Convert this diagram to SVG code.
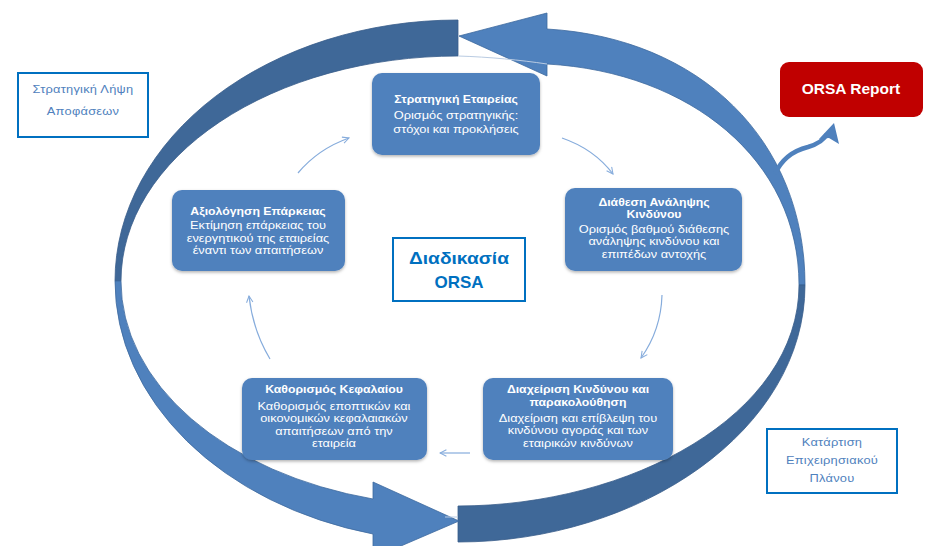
<svg xmlns="http://www.w3.org/2000/svg" width="943" height="546" viewBox="0 0 943 546">
<defs>
<style>
.box{fill:#4F81BD;filter:url(#sh)}
.t{font-family:"Liberation Sans",Arial,sans-serif;fill:#fff;text-anchor:middle;font-size:10.5px;transform-box:fill-box;transform-origin:center;transform:scaleX(1.22)}
.tb{font-weight:bold;font-size:10.5px;transform:scaleX(1.17)}
.frame{fill:#fff;stroke:#0070C0;stroke-width:2}
.st{font-family:"Liberation Sans",Arial,sans-serif;fill:#4F81BD;text-anchor:middle;font-size:11px;letter-spacing:0.2px;transform-box:fill-box;transform-origin:center;transform:scaleX(1.17)}
.ct{font-family:"Liberation Sans",Arial,sans-serif;fill:#0070C0;text-anchor:middle;font-weight:bold}
.dark{fill:#3F6898;stroke:#385D8A;stroke-width:0.8}
.light{fill:#4F81BD;stroke:#3E6A9E;stroke-width:0.8}
.conn{fill:none;stroke:#86ACDC;stroke-width:1.2;marker-end:url(#ah)}
</style>
<filter id="sh" x="-10%" y="-10%" width="120%" height="130%">
<feDropShadow dx="0" dy="1.5" stdDeviation="1.5" flood-color="#000" flood-opacity="0.3"/>
</filter>
<marker id="ah" viewBox="0 0 10 10" refX="9" refY="5" markerWidth="8" markerHeight="8" orient="auto" markerUnits="userSpaceOnUse">
<path d="M1 1 L9 5 L1 9" fill="none" stroke="#86ACDC" stroke-width="1.3"/>
</marker>
</defs>
<rect width="943" height="546" fill="#fff"/>

<g id="cycle">
<path class="light" d="M805 285 C805 140 700 38 547 29 L547 13 L459 36 L547 76 L547 64 C690 72 799 160 799 285 Z"/>
<path class="dark" d="M458 20 A343 261 0 0 0 115 281 L121 281 A337 225 0 0 1 458 56 Z"/>
<path d="M458 56 C490 57 520 60 547 64" fill="none" stroke="#B9CBE2" stroke-width="1"/>
<path class="dark" d="M458 542 C640 542 805 430 805 285 L799 285 C799 415 630 506 458 506 Z"/>
<path class="light" d="M115 281 A343 261 0 0 0 373 534 L373 558 L459 521 L373 482 L373 499 A337 225 0 0 1 121 281 Z"/>
<path d="M445 517 L458 517" stroke="#B9CBE2" stroke-width="1"/>
</g>

<g id="connectors">
<path class="conn" d="M298 173 Q318 149 349 138"/>
<path class="conn" d="M562 138 Q594 149 613 174"/>
<path class="conn" d="M662 295 Q661 330 641 358"/>
<path class="conn" d="M470 453 L440 453"/>
<path class="conn" d="M270 359 Q253 331 249 296"/>
<path d="M775 174 C783 156 796 150 808 147 C818 144 824 140 827 134" fill="none" stroke="#4F81BD" stroke-width="4.5"/>
<path d="M834 123 L839 144 L829 138 L819 139 Z" fill="#4F81BD"/>
</g>

<g id="n-strategy">
<rect class="box" x="372" y="73" width="168" height="82" rx="10"/>
<text class="t tb" x="456" y="103">Στρατηγική Εταιρείας</text>
<text class="t" x="456" y="119">Ορισμός στρατηγικής:</text>
<text class="t" x="456" y="133">στόχοι και προκλήσεις</text>
</g>

<g id="n-appetite">
<rect class="box" x="565" y="188" width="177" height="83" rx="10"/>
<text class="t tb" x="654" y="206">Διάθεση Ανάληψης</text>
<text class="t tb" x="654" y="218.5">Κινδύνου</text>
<text class="t" x="654" y="233">Ορισμός βαθμού διάθεσης</text>
<text class="t" x="654" y="245.5">ανάληψης κινδύνου και</text>
<text class="t" x="654" y="258">επιπέδων αντοχής</text>
</g>

<g id="n-risk">
<rect class="box" x="483" y="378" width="190" height="82" rx="10"/>
<text class="t tb" x="578" y="393">Διαχείριση Κινδύνου και</text>
<text class="t tb" x="578" y="406">παρακολούθηση</text>
<text class="t" x="578" y="422">Διαχείριση και επίβλεψη του</text>
<text class="t" x="578" y="434.5">κινδύνου αγοράς και των</text>
<text class="t" x="578" y="447">εταιρικών κινδύνων</text>
</g>

<g id="n-capital">
<rect class="box" x="242" y="378" width="185" height="82" rx="10"/>
<text class="t tb" x="334" y="393">Καθορισμός Κεφαλαίου</text>
<text class="t" x="334" y="410">Καθορισμός εποπτικών και</text>
<text class="t" x="334" y="422.5">οικονομικών κεφαλαιακών</text>
<text class="t" x="334" y="435">απαιτήσεων από την</text>
<text class="t" x="334" y="447.5">εταιρεία</text>
</g>

<g id="n-adequacy">
<rect class="box" x="172" y="190" width="173" height="81" rx="10"/>
<text class="t tb" x="258" y="215">Αξιολόγηση Επάρκειας</text>
<text class="t" x="258" y="229.5">Εκτίμηση επάρκειας του</text>
<text class="t" x="258" y="242">ενεργητικού της εταιρείας</text>
<text class="t" x="258" y="254.5">έναντι των απαιτήσεων</text>
</g>

<g id="n-center">
<rect class="frame" x="393" y="238" width="132" height="63"/>
<text class="ct" x="459" y="264" style="font-size:16px;transform-box:fill-box;transform-origin:center;transform:scaleX(1.2)">Διαδικασία</text>
<text class="ct" x="459" y="288" style="font-size:17px">ORSA</text>
</g>

<g id="n-decision">
<rect class="frame" x="18" y="73" width="130" height="64"/>
<text class="st" x="83" y="93">Στρατηγική Λήψη</text>
<text class="st" x="83" y="115">Αποφάσεων</text>
</g>

<g id="n-plan">
<rect class="frame" x="767" y="429" width="130" height="64"/>
<text class="st" x="832" y="446">Κατάρτιση</text>
<text class="st" x="832" y="464">Επιχειρησιακού</text>
<text class="st" x="832" y="482">Πλάνου</text>
</g>

<g id="n-report">
<rect x="780" y="62" width="143" height="55" rx="9" fill="#C00000"/>
<text x="851" y="94" style="font-family:'Liberation Sans',Arial,sans-serif;font-weight:bold;font-size:15.5px;fill:#fff;text-anchor:middle">ORSA Report</text>
</g>
</svg>
